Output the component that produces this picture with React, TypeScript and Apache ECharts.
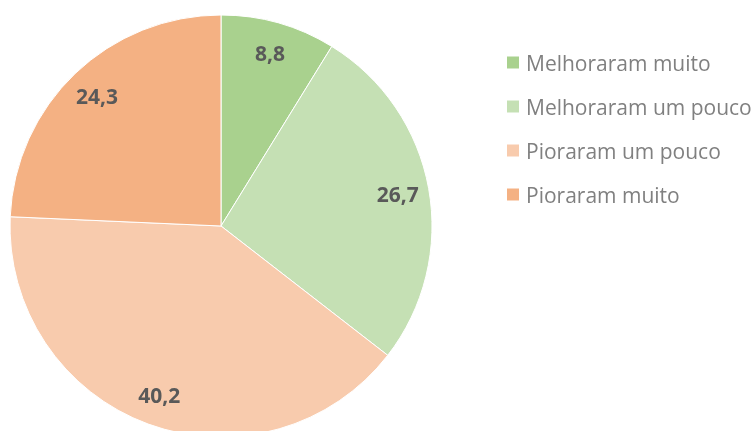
import React, { useEffect, useRef } from "react";
import * as echarts from "echarts";

const categories = ["Melhoraram muito", "Melhoraram um pouco", "Pioraram um pouco", "Pioraram muito"];
const values = [8.8, 26.7, 40.2, 24.3];
const colors = ["#a9d18e", "#c5e0b4", "#f8cbad", "#f4b183"];

export default function App() {
  const ref = useRef<HTMLDivElement>(null);
  useEffect(() => {
    if (!ref.current) return;
    const chart = echarts.init(ref.current, undefined, { renderer: "svg" });
    const data = categories.map((name, i) => ({ name, value: values[i], itemStyle: { color: colors[i] } }));
    chart.setOption({
      animation: false,
      legend: {
        orient: "vertical",
        left: 500,
        top: 47,
        itemWidth: 14,
        itemHeight: 14,
        itemGap: 23,
        icon: "rect",
        data: categories,
        textStyle: { color: "#808080", fontSize: 21, fontFamily: "Open Sans", padding: [0, 0, 0, 1] },
      },
      series: [
        {
          type: "pie",
          center: [221, 226],
          radius: [0, 211],
          startAngle: 90,
          clockwise: true,
          data,
          label: { show: false },
          labelLine: { show: false },
          itemStyle: { borderColor: "#ffffff", borderWidth: 1 },
          silent: true,
        },
        {
          type: "pie",
          center: [221, 226],
          radius: [142, 211],
          startAngle: 90,
          clockwise: true,
          data: categories.map((name, i) => ({ name, value: values[i], itemStyle: { color: "rgba(0,0,0,0)" } })),
          label: {
            show: true,
            position: "inside",
            formatter: (p: any) => String(p.value).replace(".", ","),
            color: "#595959",
            fontSize: 21,
            fontWeight: "bold",
            fontFamily: "Open Sans",
          },
          labelLine: { show: false },
          silent: true,
        },
      ],
    });
    return () => chart.dispose();
  }, []);
  return <div ref={ref} style={{ position: "fixed", left: 0, top: 0, width: 755, height: 431 }} />;
}
